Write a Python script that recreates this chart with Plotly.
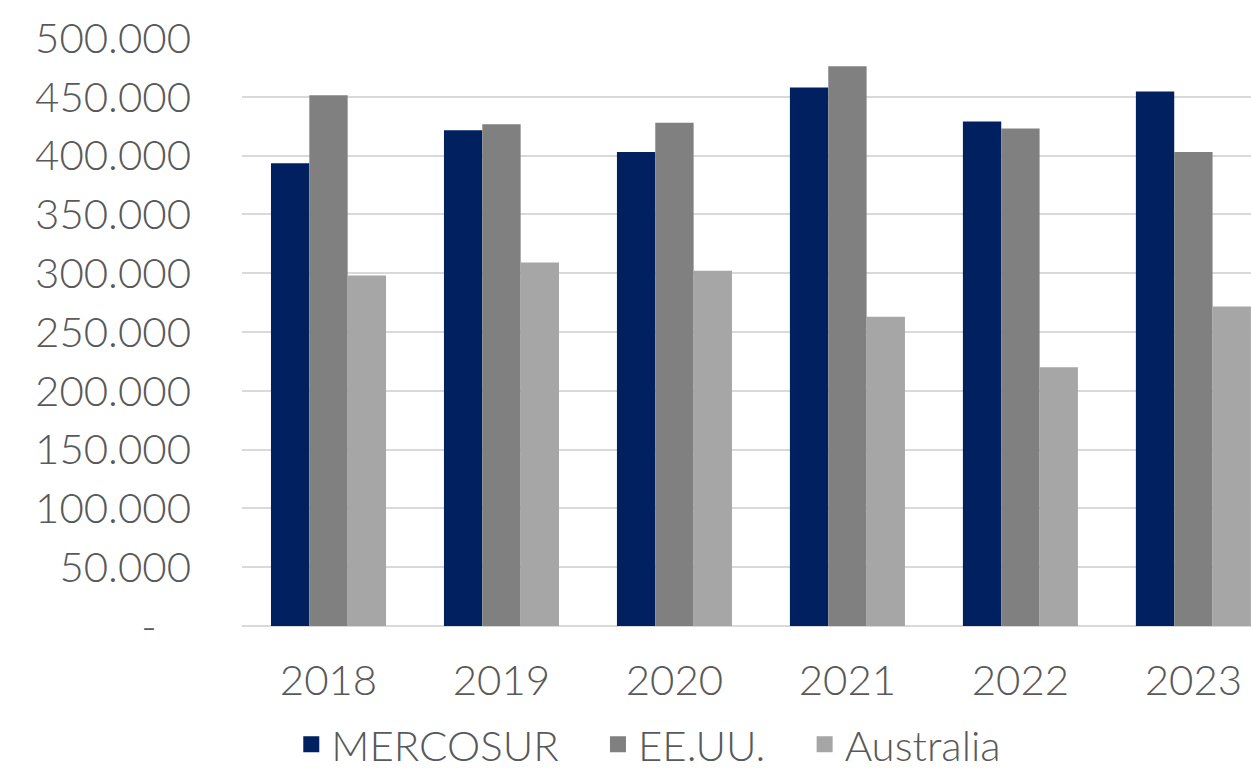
import plotly.graph_objects as go

years = ["2018", "2019", "2020", "2021", "2022", "2023"]
mercosur = [393500, 421500, 403000, 458000, 429000, 454600]
eeuu = [451400, 426700, 428000, 476000, 423000, 403000]
australia = [298000, 309000, 302000, 263000, 220000, 271700]

series_names = ["MERCOSUR", "EE.UU.", "Australia"]
colors = ["#002060", "#808080", "#A6A6A6"]

tick_vals = [0, 50000, 100000, 150000, 200000, 250000, 300000, 350000, 400000, 450000, 500000]
tick_text = ["-\u00a0\u00a0\u00a0", "50.000", "100.000", "150.000", "200.000", "250.000",
             "300.000", "350.000", "400.000", "450.000", "500.000"]

font_family = "Lato, 'Open Sans', sans-serif"
text_color = "#595959"
fsize = 42

fig = go.Figure()
for name, vals, col in zip(series_names, [mercosur, eeuu, australia], colors):
    fig.add_trace(go.Bar(x=years, y=vals, name=name, showlegend=False,
                         marker=dict(color=col, line=dict(width=0))))
# legend entries with larger square symbols
for name, col in zip(series_names, colors):
    fig.add_trace(go.Scatter(x=[None], y=[None], mode="markers", name=name + "\u00a0\u00a0\u00a0",
                             marker=dict(symbol="square", size=16, color=col),
                             showlegend=True, hoverinfo="skip"))

fig.update_layout(
    width=1251, height=773,
    margin=dict(l=242, r=0, t=38, b=147),
    paper_bgcolor="white", plot_bgcolor="white",
    barmode="group", bargap=0.335, bargroupgap=0,
    font=dict(family=font_family, color=text_color, size=fsize, weight=300),
    showlegend=True,
    legend=dict(orientation="h", x=0.42, xanchor="center",
                yref="container", y=0.037, yanchor="middle",
                font=dict(size=fsize, color=text_color, weight=300), itemwidth=30,
                tracegroupgap=0, traceorder="normal", itemsizing="trace"),
)
fig.update_yaxes(
    range=[0, 500000], tickvals=tick_vals, ticktext=tick_text, automargin=False,
    showgrid=True, gridcolor="#D9D9D9", gridwidth=1.5,
    zeroline=True, zerolinecolor="#D9D9D9", zerolinewidth=2,
    showline=False, ticks="", ticklabelstandoff=50,
    tickfont=dict(size=fsize, color=text_color, weight=300),
)
fig.update_xaxes(
    type="category", range=[-0.5, 5.333], automargin=False,
    showgrid=False, showline=False, ticks="", ticklabelstandoff=26,
    tickfont=dict(size=fsize, color=text_color, weight=300),
)

fig.write_html("out.html", config={"displayModeBar": False},
               post_script="document.body.style.margin='0';")
